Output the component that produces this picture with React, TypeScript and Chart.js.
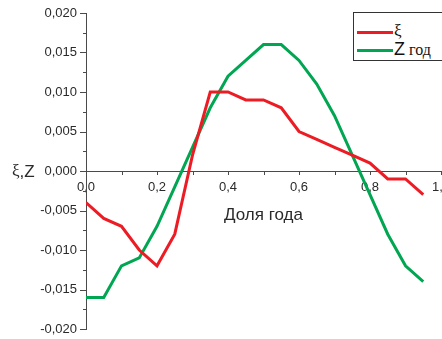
import React, { useEffect, useRef } from "react";
import { Chart, registerables } from "chart.js";

Chart.register(...registerables);

const xValues = [0, 0.05, 0.1, 0.15, 0.2, 0.25, 0.3, 0.35, 0.4, 0.45, 0.5, 0.55, 0.6, 0.65, 0.7, 0.75, 0.8, 0.85, 0.9, 0.95];
const xiValues = [-0.004, -0.006, -0.007, -0.010, -0.012, -0.008, 0.002, 0.010, 0.010, 0.009, 0.009, 0.008, 0.005, 0.004, 0.003, 0.002, 0.001, -0.001, -0.001, -0.003];
const zValues = [-0.016, -0.016, -0.012, -0.011, -0.007, -0.002, 0.003, 0.008, 0.012, 0.014, 0.016, 0.016, 0.014, 0.011, 0.007, 0.002, -0.003, -0.008, -0.012, -0.014];
const seriesNames = ["ξ", "Z год"];
const xTitle = "Доля года";
const yTitle = ["ξ", ",Z"];

const RED = "#ED1C24";
const GREEN = "#00A651";
const AXIS = "#4a4a4a";
const TEXT = "#2a2a2a";
const SANS = "'Liberation Sans', Arial, sans-serif";
const SERIF = "'Liberation Serif', 'Times New Roman', serif";

const isMajorY = (v: number) => Math.abs(Math.round(v / 0.005) * 0.005 - v) < 1e-9;
const isMajorX = (v: number) => Math.abs(Math.round(v / 0.2) * 0.2 - v) < 1e-9;

const tickPlugin = {
  id: "customTicks",
  afterDraw(chart: any) {
    const ctx = chart.ctx;
    const ys = chart.scales.y;
    const xs = chart.scales.x;
    const left = chart.chartArea.left;
    ctx.save();
    ctx.strokeStyle = AXIS;
    ctx.lineWidth = 1;
    ys.ticks.forEach((t: any) => {
      const py = Math.round(ys.getPixelForValue(t.value)) + 0.5;
      const len = isMajorY(t.value) ? 6 : 3;
      ctx.beginPath();
      ctx.moveTo(left - len, py);
      ctx.lineTo(left, py);
      ctx.stroke();
    });
    const y0 = Math.round(ys.getPixelForValue(0));
    xs.ticks.forEach((t: any) => {
      const px = Math.round(xs.getPixelForValue(t.value)) + 0.5;
      ctx.beginPath();
      ctx.moveTo(px, y0);
      ctx.lineTo(px, y0 + 4);
      ctx.stroke();
    });
    // y axis title (horizontal)
    ctx.fillStyle = TEXT;
    ctx.textBaseline = "middle";
    ctx.textAlign = "left";
    const ty = ys.getPixelForValue(0) + 1;
    ctx.font = `17px ${SERIF}`;
    ctx.fillText(yTitle[0], 12, ty);
    const w0 = ctx.measureText(yTitle[0]).width;
    ctx.font = `17px ${SANS}`;
    ctx.fillText(yTitle[1], 12 + w0, ty);
    ctx.restore();
  },
};

export default function App() {
  const ref = useRef<HTMLCanvasElement | null>(null);
  useEffect(() => {
    if (!ref.current) return;
    const chart = new Chart(ref.current, {
      type: "line",
      data: {
        datasets: [
          {
            label: seriesNames[0],
            data: xValues.map((x, i) => ({ x, y: xiValues[i] })),
            borderColor: RED,
            borderWidth: 3,
            pointRadius: 0,
            tension: 0,
            fill: false,
          },
          {
            label: seriesNames[1],
            data: xValues.map((x, i) => ({ x, y: zValues[i] })),
            borderColor: GREEN,
            borderWidth: 3,
            pointRadius: 0,
            tension: 0,
            fill: false,
          },
        ],
      },
      options: {
        animation: false,
        responsive: false,
        maintainAspectRatio: false,
        layout: { padding: { left: 0, right: 39, top: 13, bottom: 10 } },
        plugins: { legend: { display: false }, tooltip: { enabled: false } },
        scales: {
          x: {
            type: "linear",
            position: { y: 0 } as any,
            min: 0,
            max: 1.0,
            ticks: {
              stepSize: 0.1,
              padding: 9,
              color: TEXT,
              font: { size: 13, family: SANS },
              autoSkip: false,
              maxRotation: 0,
              callback: (v: any) => (isMajorX(Number(v)) ? Number(v).toFixed(1).replace(".", ",") : ""),
            },
            grid: { display: false, drawTicks: false },
            border: { display: true, color: AXIS, width: 1 },
            title: {
              display: true,
              text: xTitle,
              color: TEXT,
              font: { size: 17, family: SANS },
              padding: { top: 1, bottom: 0 },
            },
          },
          y: {
            type: "linear",
            position: "left",
            min: -0.02,
            max: 0.02,
            afterFit: (scale: any) => {
              scale.width = 86;
              scale.paddingTop = 0;
              scale.paddingBottom = 0;
            },
            ticks: {
              stepSize: 0.0025,
              padding: 9,
              color: TEXT,
              font: { size: 13, family: SANS },
              autoSkip: false,
              callback: (v: any) => {
                const n = Number(v);
                if (!isMajorY(n)) return "";
                const r = Math.round(n / 0.005) * 0.005;
                return (Math.abs(r) < 1e-12 ? 0 : r).toFixed(3).replace(".", ",");
              },
            },
            grid: { display: false, drawTicks: false },
            border: { display: true, color: AXIS, width: 1 },
          },
        },
      } as any,
      plugins: [tickPlugin],
    });
    return () => chart.destroy();
  }, []);

  const legendRow = (color: string, top: number, content: React.ReactNode) => (
    <div style={{ position: "absolute", left: 0, top, height: 18, display: "flex", alignItems: "center" }}>
      <div style={{ position: "absolute", left: 3, top: 8, width: 36, height: 3, background: color }} />
      <div style={{ position: "absolute", left: 40, top: -1, whiteSpace: "nowrap", lineHeight: "18px", color: "#111" }}>{content}</div>
    </div>
  );

  return (
    <div style={{ position: "absolute", left: 0, top: 0, width: 442, height: 339, overflow: "hidden", background: "#fff" }}>
      <canvas ref={ref} width={480} height={339} style={{ position: "absolute", left: 0, top: 0, width: 480, height: 339 }} />
      <div style={{ position: "absolute", left: 353, top: 12, width: 110, height: 47, border: "1px solid #333", background: "#fff" }}>
        {legendRow(RED, 10, <span style={{ fontFamily: SERIF, fontSize: 17 }}>{seriesNames[0]}</span>)}
        {legendRow(GREEN, 28, <span>
          <span style={{ fontFamily: SANS, fontSize: 18 }}>{seriesNames[1].split(" ")[0]}</span>
          <span style={{ fontFamily: SERIF, fontSize: 16 }}>{" " + seriesNames[1].split(" ").slice(1).join(" ")}</span>
        </span>)}
      </div>
    </div>
  );
}
